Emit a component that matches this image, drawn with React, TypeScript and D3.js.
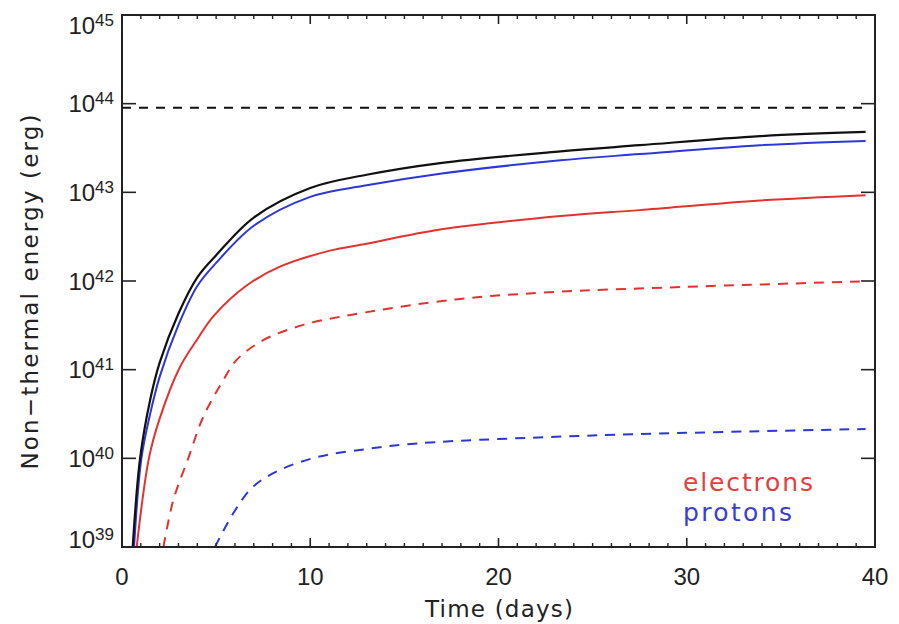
import React from "react";
import * as d3 from "d3";

// ---- data ----
const totalDays = [0.57, 0.96, 1.5, 2, 3, 4, 5, 7, 10, 13, 16.9, 23.3, 27.5, 33.9, 39.5];
const totalE = [1.0e39, 1.0e40, 4.6e40, 1.2e41, 4.3e41, 1.1e42, 1.95e42, 5.2e42, 1.12e43, 1.58e43, 2.14e43, 2.9e43, 3.4e43, 4.3e43, 4.8e43];

const protonDays = [0.64, 1.03, 1.5, 2, 3, 4, 5, 7, 10, 13, 16.9, 23.3, 27.5, 33.9, 39.5];
const protonE = [1.0e39, 1.0e40, 3.2e40, 8.3e40, 3.2e41, 8.8e41, 1.6e42, 4.2e42, 8.9e42, 1.2e43, 1.62e43, 2.3e43, 2.7e43, 3.4e43, 3.8e43];

const electronDays = [0.78, 1.43, 2, 3.08, 4, 4.85, 6.62, 8.39, 11.05, 13, 16.9, 23.3, 27.5, 33.9, 39.5];
const electronE = [1.0e39, 1.0e40, 2.8e40, 1.07e41, 2.2e41, 4.0e41, 8.9e41, 1.45e42, 2.2e42, 2.63e42, 3.8e42, 5.4e42, 6.3e42, 8.1e42, 9.3e42];

const electronDashDays = [2.2, 2.73, 3.52, 4.32, 5.38, 6.09, 7.5, 9.63, 12.3, 17.7, 22.4, 30, 39.5];
const electronDashE = [1.0e39, 3.4e39, 1.0e40, 2.95e40, 7.6e40, 1.29e41, 2.15e41, 3.2e41, 4.2e41, 6.2e41, 7.4e41, 8.6e41, 9.9e41];

const protonDashDays = [4.94, 5.91, 6.97, 8.39, 10.5, 13.2, 15.8, 25.4, 39.5];
const protonDashE = [1.0e39, 2.4e39, 4.8e39, 7.4e39, 1.05e40, 1.29e40, 1.48e40, 1.82e40, 2.14e40];

const limitDays = [0, 39.5];
const limitE = [9.0e43, 9.0e43];

const xMajorTicks = [0, 10, 20, 30, 40];
const yExponents = [39, 40, 41, 42, 43, 44, 45];

const RED = "#e3322e";
const BLUE = "#2b37d6";
const BLACK = "#111111";

export default function App() {
  const W = 899, H = 624;
  const left = 122, right = 875, top = 15, bottom = 547;
  const x = d3.scaleLinear().domain([0, 40]).range([left, right]);
  const y = d3.scaleLog().domain([1e39, 1e45]).range([bottom, top]);

  const mk = (days: number[], vals: number[]) =>
    d3
      .line<number>()
      .x((_, i) => x(days[i]))
      .y((v) => y(v))
      .curve(d3.curveCatmullRom.alpha(0.5))(vals) || "";

  const series = [
    { d: mk(limitDays, limitE), color: BLACK, dash: "9,8", w: 2 },
    { d: mk(protonDashDays, protonDashE), color: BLUE, dash: "10,8", w: 2 },
    { d: mk(electronDashDays, electronDashE), color: RED, dash: "10,8", w: 2 },
    { d: mk(electronDays, electronE), color: RED, dash: undefined, w: 2 },
    { d: mk(protonDays, protonE), color: BLUE, dash: undefined, w: 2 },
    { d: mk(totalDays, totalE), color: BLACK, dash: undefined, w: 2.2 },
  ];

  const minorX = d3.range(0, 41, 1).filter((v) => v % 10 !== 0);
  const axisColor = "#222";
  const tickFont = "'Liberation Sans', Arial, sans-serif";
  const titleFont = "'DejaVu Sans', sans-serif";

  return (
    <svg
      width={W}
      height={H}
      style={{ position: "absolute", left: 0, top: 0, background: "#fff" }}
    >
      <defs>
        <clipPath id="plotClip">
          <rect x={left} y={top} width={right - left} height={bottom - top} />
        </clipPath>
      </defs>
      <rect x={0} y={0} width={W} height={H} fill="#fff" />

      {/* curves */}
      <g clipPath="url(#plotClip)">
        {series.map((s, i) => (
          <path
            key={i}
            d={s.d}
            fill="none"
            stroke={s.color}
            strokeWidth={s.w}
            strokeDasharray={s.dash}
          />
        ))}
      </g>

      {/* frame */}
      <rect
        x={left}
        y={top}
        width={right - left}
        height={bottom - top}
        fill="none"
        stroke={axisColor}
        strokeWidth={2}
      />

      {/* x ticks */}
      {xMajorTicks.map((t) => (
        <g key={"xM" + t}>
          <line x1={x(t)} x2={x(t)} y1={bottom} y2={bottom - 9} stroke={axisColor} strokeWidth={1.6} />
          <line x1={x(t)} x2={x(t)} y1={top} y2={top + 9} stroke={axisColor} strokeWidth={1.6} />
          <text
            x={x(t)}
            y={585}
            textAnchor="middle"
            fontFamily={tickFont}
            fontSize={24}
            fill="#222"
          >
            {t}
          </text>
        </g>
      ))}
      {minorX.map((t) => (
        <g key={"xm" + t}>
          <line x1={x(t)} x2={x(t)} y1={bottom} y2={bottom - 4} stroke={axisColor} strokeWidth={1.4} />
          <line x1={x(t)} x2={x(t)} y1={top} y2={top + 4} stroke={axisColor} strokeWidth={1.4} />
        </g>
      ))}

      {/* y ticks */}
      {yExponents.map((e) => {
        const ty = y(Math.pow(10, e));
        const cy = Math.min(Math.max(ty, 25), 539.5);
        return (
          <g key={"y" + e}>
            <line x1={left} x2={left + 14} y1={ty} y2={ty} stroke={axisColor} strokeWidth={1.6} />
            <line x1={right} x2={right - 14} y1={ty} y2={ty} stroke={axisColor} strokeWidth={1.6} />
            <text
              x={114}
              y={cy + 8.6}
              textAnchor="end"
              fontFamily={tickFont}
              fontSize={24}
              fill="#222"
            >
              10
              <tspan fontSize={17} dy={-8}>
                {e}
              </tspan>
            </text>
          </g>
        );
      })}

      {/* axis titles */}
      <text
        x={499}
        y={617}
        textAnchor="middle"
        fontFamily={titleFont}
        fontSize={23}
        fill="#222"
        textLength={148}
      >
        Time (days)
      </text>
      <text
        transform="translate(38,292) rotate(-90)"
        textAnchor="middle"
        fontFamily={titleFont}
        fontSize={23}
        fill="#222"
        textLength={355}
      >
        Non−thermal energy (erg)
      </text>

      {/* legend */}
      <text x={683} y={491} fontFamily={titleFont} fontSize={25} fill="#e2403f" textLength={130}>
        electrons
      </text>
      <text x={683} y={521} fontFamily={titleFont} fontSize={25} fill="#3a3fd0" textLength={109}>
        protons
      </text>
    </svg>
  );
}
